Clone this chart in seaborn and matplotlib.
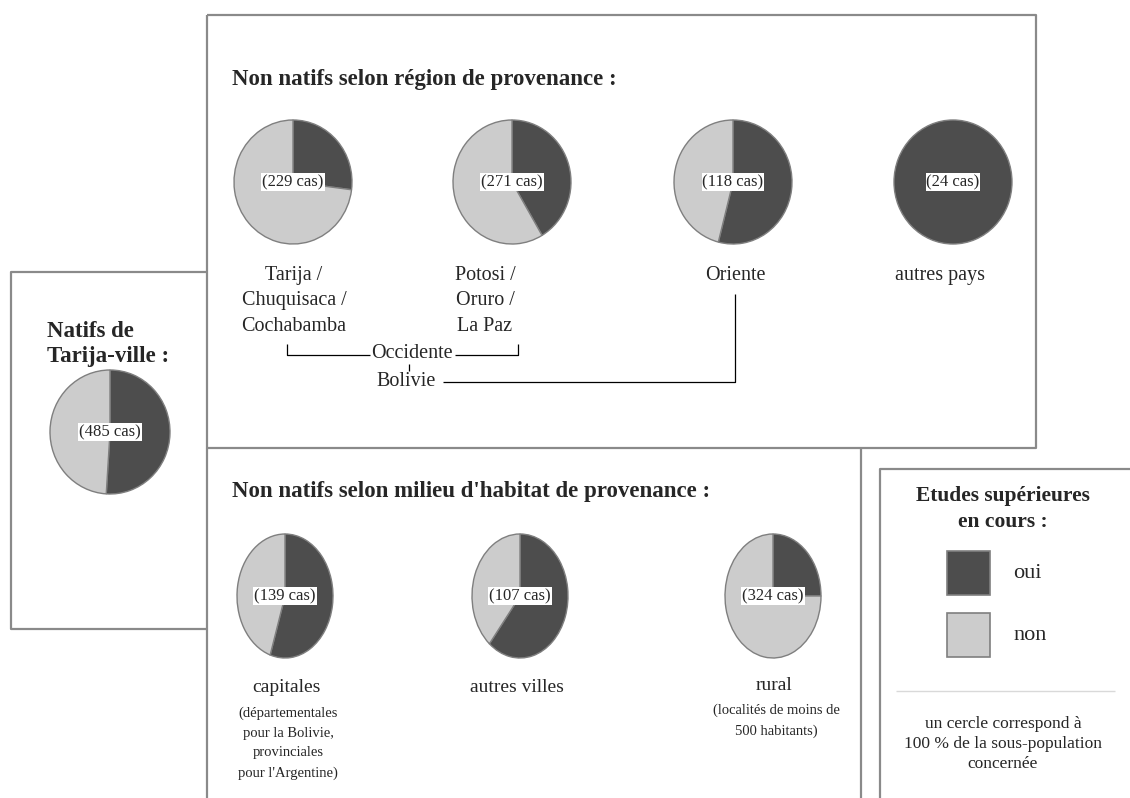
"""
Etudes supérieures en cours selon l'origine - pie panels
"""
import matplotlib
matplotlib.use("Agg")
import matplotlib.pyplot as plt
import seaborn as sns

# ---- data ----
region_labels = ["Tarija /\nChuquisaca /\nCochabamba", "Potosi /\nOruro /\nLa Paz",
                 "Oriente", "autres pays"]
region_cas = [229, 271, 118, 24]
region_oui_pct = [27, 41.5, 54, 100]

habitat_labels = ["capitales", "autres villes", "rural"]
habitat_notes = ["(départementales\npour la Bolivie,\nprovinciales\npour l'Argentine)",
                 "", "(localités de moins de\n500 habitants)"]
habitat_cas = [139, 107, 324]
habitat_oui_pct = [55, 61, 25]

natifs_cas = 485
natifs_oui_pct = 51

legend_labels = ["oui", "non"]

# ---- style ----
sns.set_theme(style="white")
plt.rcParams["font.family"] = ["Liberation Serif", "DejaVu Serif"]

DARK, LIGHT = "#4d4d4d", "#cccccc"
EDGE = "#7f7f7f"
BOX = "#8a8a8a"
W, H = 1130, 798

fig = plt.figure(figsize=(W / 100, H / 100), dpi=100)
fig.patch.set_facecolor("white")

# full-figure canvas in pixel coordinates (y downward)
canvas = fig.add_axes([0, 0, 1, 1])
canvas.set_xlim(0, W)
canvas.set_ylim(H, 0)
canvas.axis("off")


def box_line(xs, ys, color=BOX, lw=1.6):
    canvas.plot(xs, ys, color=color, lw=lw, solid_capstyle="butt")


def draw_pie(cx, cy, rx, ry, oui, cas):
    ax = fig.add_axes([(cx - 1.05 * rx) / W, 1 - (cy + 1.05 * ry) / H,
                       2.1 * rx / W, 2.1 * ry / H])
    # skip empty wedges so a 100 % pie has no seam
    parts = [(v, c) for v, c in zip([oui, 100 - oui], [DARK, LIGHT]) if v > 0]
    ax.pie([v for v, _ in parts], colors=[c for _, c in parts], startangle=90,
           counterclock=False, radius=1,
           wedgeprops=dict(edgecolor=EDGE, linewidth=1.0))
    ax.set_xlim(-1.05, 1.05)
    ax.set_ylim(-1.05, 1.05)
    ax.set_aspect("auto")
    ax.axis("off")
    ax.text(0, 0, f"({cas} cas)", ha="center", va="center", fontsize=12,
            bbox=dict(facecolor="white", edgecolor="none", pad=0.6))


# ---- panel frames ----
box_line([207, 1036, 1036, 207, 207], [15, 15, 448, 448, 15])
box_line([207, 11, 11, 207], [272, 272, 629, 629])
box_line([207, 207], [448, 798])
box_line([861, 861], [448, 798])
box_line([880, 880, 1130], [798, 469, 469])

# ---- top panel: region of origin ----
canvas.text(232, 80, "Non natifs selon région de provenance :", fontsize=16.5,
            fontweight="bold", va="center")
pie_x = [293, 512, 733, 953]
label_x = [294, 485, 735, 940]
for px, lx, lab, cas, pct in zip(pie_x, label_x, region_labels, region_cas,
                                 region_oui_pct):
    draw_pie(px, 182, 59, 62, pct, cas)
    canvas.text(lx, 266, lab, fontsize=14.5, ha="center", va="top",
                linespacing=1.45)

# Occidente / Bolivie brackets
canvas.text(412, 353, "Occidente", fontsize=14.5, ha="center", va="center")
box_line([287, 287, 370], [344, 355, 355], color="black", lw=0.9)
box_line([455, 518, 518], [355, 355, 344], color="black", lw=0.9)
box_line([409, 409], [364, 371], color="black", lw=0.9)
canvas.text(406, 381, "Bolivie", fontsize=14.5, ha="center", va="center")
box_line([443, 735, 735], [382, 382, 294], color="black", lw=0.9)

# ---- left panel: natives ----
canvas.text(47, 344, "Natifs de\nTarija-ville :", fontsize=16.5, fontweight="bold",
            va="center", linespacing=1.2)
draw_pie(110, 432, 60, 62, natifs_oui_pct, natifs_cas)

# ---- bottom panel: habitat of origin ----
canvas.text(232, 492, "Non natifs selon milieu d'habitat de provenance :",
            fontsize=16.5, fontweight="bold", va="center")
habitat_x = [286, 517, 774]
pie_bx = [285, 520, 773]
habitat_ty = [688, 688, 685]
for px, x, ty, lab, note, cas, pct in zip(pie_bx, habitat_x, habitat_ty,
                                          habitat_labels, habitat_notes,
                                          habitat_cas, habitat_oui_pct):
    draw_pie(px, 596, 48, 62, pct, cas)
    canvas.text(x, ty, lab, fontsize=14, ha="center", va="center")
    if note:
        canvas.text(x + 2, ty + 19, note, fontsize=10.5, ha="center", va="top",
                    linespacing=1.65)

# ---- legend panel ----
canvas.text(1003, 509, "Etudes supérieures\nen cours :", fontsize=15.5,
            fontweight="bold", ha="center", va="center", linespacing=1.45)
for (y0, col, lab) in zip([551, 613], [DARK, LIGHT], legend_labels):
    canvas.add_patch(plt.Rectangle((947, y0), 43, 44, facecolor=col,
                                   edgecolor=EDGE, lw=1.2))
    canvas.text(1013, y0 + 22, lab, fontsize=16, va="center")
box_line([896, 1115], [691, 691], color="#d9d9d9", lw=1.0)
canvas.text(1003, 744, "un cercle correspond à\n100 % de la sous-population\nconcernée",
            fontsize=12.5, ha="center", va="center", linespacing=1.3)

fig.savefig("out.png", dpi=100)
